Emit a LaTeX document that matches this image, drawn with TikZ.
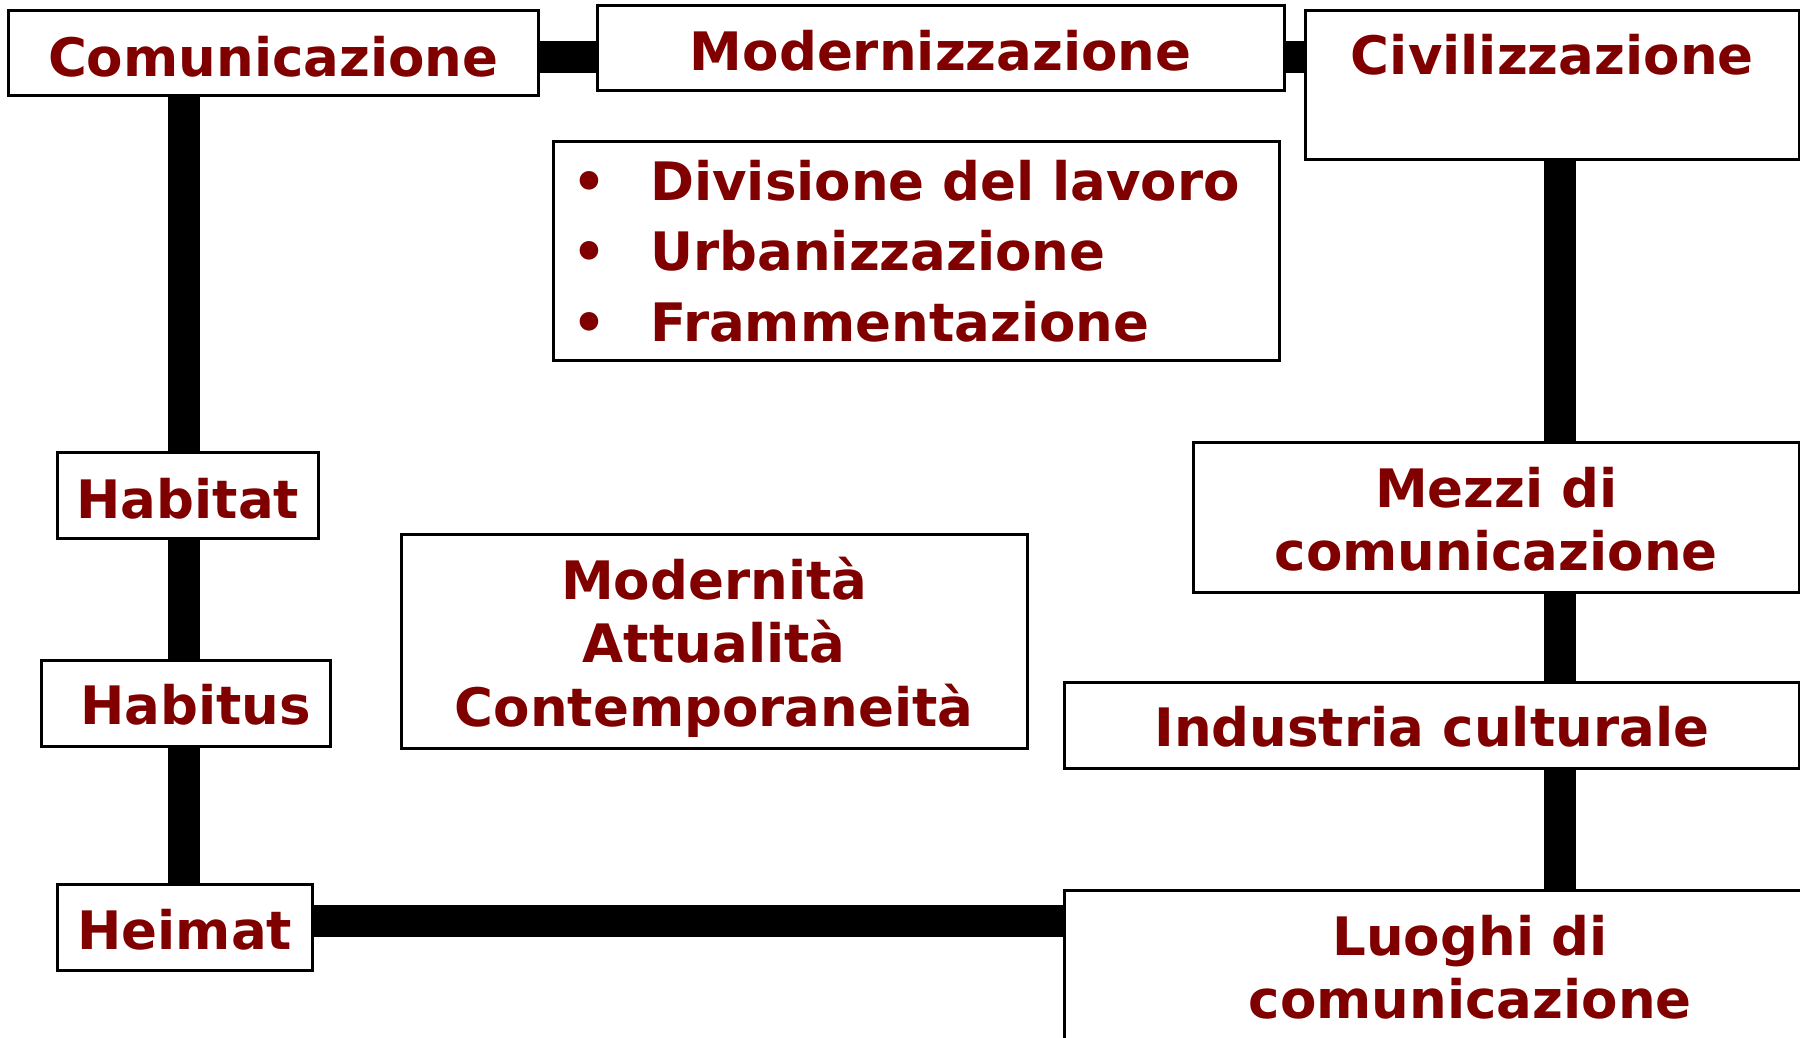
\documentclass[tikz,border=0pt]{standalone}
\usepackage{fontspec}
\setmainfont{DejaVu Sans}
\definecolor{maroon}{RGB}{128,0,0}
\pgfdeclarelayer{bg}
\pgfsetlayers{bg,main}
\tikzset{
  box/.style={draw=black, line width=2.5pt, fill=white, inner sep=0pt, anchor=north west,
    text=maroon, font=\fontsize{53}{63}\selectfont\bfseries},
  link/.style={line width=32pt, draw=black},
}
\begin{document}
\begin{tikzpicture}[x=1pt,y=-1pt]
\useasboundingbox (0,0) rectangle (1800,1037);
\clip (0,0) rectangle (1800,1037);

\node[box, minimum width=530pt, text height=66pt, text depth=19pt] (comm) at (7,9) {Comunicazione};
\node[box, minimum width=687pt, text height=65pt, text depth=20pt] (mod) at (596,4) {Modernizzazione};
\node[box, minimum width=494pt, text height=64pt, text depth=85pt] (civ) at (1304,9) {Civilizzazione};
\node[box, text width=726pt, align=left, text height=59pt, text depth=160pt,
      font=\fontsize{53}{70.5}\selectfont\bfseries] (list) at (552,140)
  {\hspace*{19pt}\makebox[78pt][l]{•}Divisione del lavoro\\
   \hspace*{19pt}\makebox[78pt][l]{•}Urbanizzazione\\
   \hspace*{19pt}\makebox[78pt][l]{•}Frammentazione};
\node[box, minimum width=261pt, text height=66pt, text depth=20pt] (habitat) at (56,451) {Habitat};
\node[box, minimum width=289pt, text height=64pt, text depth=22pt] (habitus) at (40,659) {\hspace*{20pt}Habitus};
\node[box, minimum width=255pt, text height=65pt, text depth=21pt] (heimat) at (56,883) {Heimat};
\node[box, text width=626pt, align=center, text height=65pt, text depth=149pt,
      font=\fontsize{53}{63.5}\selectfont\bfseries] (modern) at (400,533)
  {Modernità\\Attualità\\Contemporaneità};
\node[box, text width=606pt, align=center, text height=65pt, text depth=85pt] (mezzi) at (1192,441)
  {Mezzi di\\comunicazione};
\node[box, minimum width=735pt, text height=64pt, text depth=22pt] (ind) at (1063,681) {Industria culturale};
\node[box, text width=812pt, align=center, text height=65pt, text depth=106pt] (luoghi) at (1063,889)
  {Luoghi di\\comunicazione};

\coordinate (ytop) at (0,57);
\coordinate (xleft) at (184,0);
\coordinate (xright) at (1560,0);
\coordinate (ybot) at (0,921);

\begin{pgfonlayer}{bg}
\fill[white] (0,0) rectangle (1800,1037);
\draw[link] (comm.east |- ytop) -- (mod.west |- ytop);
\draw[link] (mod.east |- ytop) -- (civ.west |- ytop);
\draw[link] (comm.south -| xleft) -- (habitat.north -| xleft);
\draw[link] (habitat.south -| xleft) -- (habitus.north -| xleft);
\draw[link] (habitus.south -| xleft) -- (heimat.north -| xleft);
\draw[link] (heimat.east |- ybot) -- (luoghi.west |- ybot);
\draw[link] (civ.south -| xright) -- (mezzi.north -| xright);
\draw[link] (mezzi.south -| xright) -- (ind.north -| xright);
\draw[link] (ind.south -| xright) -- (luoghi.north -| xright);
\end{pgfonlayer}
\end{tikzpicture}
\end{document}
